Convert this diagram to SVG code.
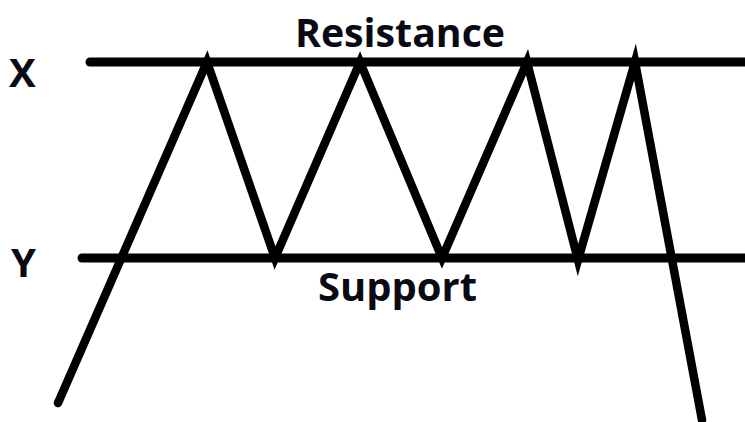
<svg xmlns="http://www.w3.org/2000/svg" width="745" height="422" viewBox="0 0 745 422">
<style>
.lvl{stroke:#000;stroke-width:9;stroke-linecap:round;fill:none}
.zz{stroke:#000;stroke-width:8.5;stroke-linecap:round;stroke-linejoin:miter;stroke-miterlimit:10;fill:none}
.t{font-family:"Open Sans","DejaVu Sans",sans-serif;font-weight:bold;font-size:40px;fill:#0a0a14}
</style>
<rect width="745" height="422" fill="#fff"/>
<g id="connectors">
<line id="resistance-line" class="lvl" x1="90" y1="62" x2="750" y2="62"/>
<line id="support-line" class="lvl" x1="82" y1="258" x2="750" y2="258"/>
<polyline id="price" class="zz" points="58,403 207,62 275,258 360,62 442,258 527,62 578,260 635,62 702,420"/>
</g>
<g id="label-resistance"><text class="t" x="295" y="47" textLength="210" lengthAdjust="spacingAndGlyphs">Resistance</text></g>
<g id="label-support"><text class="t" x="318" y="301" textLength="159" lengthAdjust="spacingAndGlyphs">Support</text></g>
<g id="label-x"><text class="t" x="9" y="87">X</text></g>
<g id="label-y"><text class="t" x="11" y="277">Y</text></g>
</svg>
